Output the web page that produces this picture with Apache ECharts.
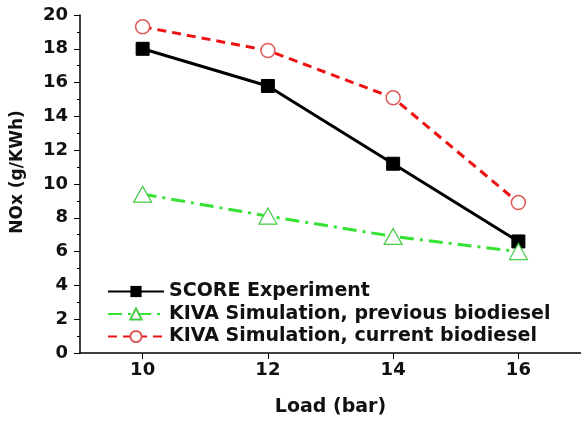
<!DOCTYPE html>
<html><head><meta charset="utf-8">
<script src="https://cdn.jsdelivr.net/npm/echarts@6/dist/echarts.min.js"></script>
<style>html,body{margin:0;padding:0;background:#fff}#c{width:581px;height:421px}</style>
</head><body><div id="c"></div>
<script>
const loads = [10, 12, 14, 16];
const scoreExperiment = [18.0, 15.8, 11.2, 6.6];
const kivaPrevious = [9.4, 8.1, 6.9, 6.0];
const kivaCurrent = [19.3, 17.9, 15.1, 8.9];
const xTicks = [10, 12, 14, 16];
const seriesNames = ['SCORE Experiment', 'KIVA Simulation, previous biodiesel', 'KIVA Simulation, current biodiesel'];
const yTitle = 'NOx (g/KWh)';
const xTitle = 'Load (bar)';

const pair = (ys) => loads.map((x, i) => [x, ys[i]]);
const font = '"DejaVu Sans", Arial, sans-serif';
const chart = echarts.init(document.getElementById('c'));
chart.setOption({
  animation: false,
  backgroundColor: '#fff',
  grid: {left: 80, right: 0, top: 15, bottom: 68, containLabel: false, outerBoundsMode: 'none'},
  graphic: [{
    type: 'text', x: 18, y: 172, rotation: Math.PI / 2,
    style: {text: yTitle, align: 'center', verticalAlign: 'middle',
      font: 'bold 17px "DejaVu Sans", Arial, sans-serif', fill: '#111'}
  }],
  legend: {
    orient: 'vertical', left: 107, top: 282, padding: 0, itemGap: 3.5, itemWidth: 56, itemHeight: 14,
    textStyle: {fontFamily: font, fontWeight: 'bold', fontSize: 19, color: '#111'},
    data: seriesNames
  },
  xAxis: {
    type: 'value', min: 9, max: 17, interval: 1,
    name: xTitle, nameLocation: 'middle', nameGap: 45,
    nameTextStyle: {fontFamily: font, fontWeight: 'bold', fontSize: 19, color: '#111'},
    axisLine: {lineStyle: {color: '#000', width: 1.5}},
    axisTick: {inside: false, length: 6, customValues: xTicks, lineStyle: {color: '#000'}},
    axisLabel: {customValues: xTicks, margin: 8, fontFamily: font, fontWeight: 'bold', fontSize: 18, color: '#111'},
    splitLine: {show: false}
  },
  yAxis: {
    type: 'value', min: 0, max: 20, interval: 2,
    axisLine: {show: true, lineStyle: {color: '#000', width: 1.5}},
    axisTick: {show: true, length: 6, lineStyle: {color: '#000'}},
    minorTick: {show: true, splitNumber: 2, length: 3, lineStyle: {color: '#000'}},
    axisLabel: {margin: 12, fontFamily: font, fontWeight: 'bold', fontSize: 18, color: '#111'},
    splitLine: {show: false}
  },
  series: [
    {
      name: seriesNames[0], type: 'line', data: pair(scoreExperiment),
      symbol: 'rect', symbolSize: 13, z: 3,
      lineStyle: {color: '#000', width: 3},
      itemStyle: {color: '#000', borderColor: '#000'}
    },
    {
      name: seriesNames[1], type: 'line', data: pair(kivaPrevious),
      symbol: 'triangle', symbolSize: [18, 16],
      lineStyle: {color: '#33e233', width: 3, type: [14, 6, 3, 6]},
      itemStyle: {color: '#fff', borderColor: '#44cc44', borderWidth: 1.2}
    },
    {
      name: seriesNames[2], type: 'line', data: pair(kivaCurrent),
      symbol: 'circle', symbolSize: 14,
      lineStyle: {color: '#ee1111', width: 3, type: [9, 6]},
      itemStyle: {color: '#fff', borderColor: '#e05a5a', borderWidth: 1.5}
    }
  ]
});
</script></body></html>
